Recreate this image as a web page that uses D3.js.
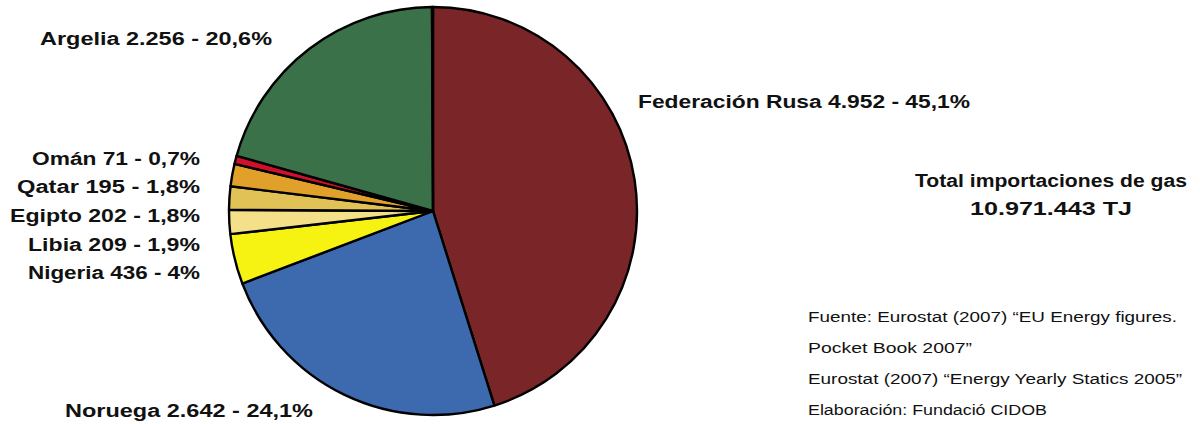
<!DOCTYPE html>
<html><head><meta charset="utf-8">
<script src="https://cdn.jsdelivr.net/npm/d3@7"></script>
<style>
html,body{margin:0;padding:0;background:#fff;}
svg{display:block;}
text{font-family:"Liberation Sans",Arial,sans-serif;fill:#111;}
.lbl{font-weight:bold;font-size:18px;}
.src{font-size:15.5px;}
</style></head>
<body>
<svg id="chart" width="1200" height="424"></svg>
<script>
const countries = ["Federación Rusa","Noruega","Nigeria","Libia","Egipto","Qatar","Omán","Argelia","Otros"];
const values    = [4952, 2642, 436, 209, 202, 195, 71, 2256, 8.443];
const valueText = ["4.952","2.642","436","209","202","195","71","2.256",""];
const pctText   = ["45,1%","24,1%","4%","1,9%","1,8%","1,8%","0,7%","20,6%",""];
const colors    = ["#7a2628","#3d69ae","#f6f212","#f5e08a","#e1c256","#e0a02a","#d0102c","#3a7148","#000000"];
const totalLines = ["Total importaciones de gas","10.971.443 TJ"];
const sourceLines = ["Fuente: Eurostat (2007) “EU Energy figures.","Pocket Book 2007”","Eurostat (2007) “Energy Yearly Statics 2005”","Elaboración: Fundació CIDOB"];

const svg = d3.select("#chart");
const cx = 433, cy = 211, R = 204;
const data = countries.map((c,i)=>({name:c,value:values[i],color:colors[i],label:valueText[i]?`${c} ${valueText[i]} - ${pctText[i]}`:""}));
const pie = d3.pie().sort(null).value(d=>d.value).startAngle(0).endAngle(2*Math.PI);
const arc = d3.arc().innerRadius(0).outerRadius(R);
const g = svg.append("g").attr("transform",`translate(${cx},${cy})`);
g.selectAll("path").data(pie(data)).join("path")
  .attr("d",arc).attr("fill",d=>d.data.color)
  .attr("stroke","#000").attr("stroke-width",2.4).attr("stroke-linejoin","round");

// label layout (anchor, x, y, target width)
const labelPos = {
  "Federación Rusa":["start",638,108,332],
  "Noruega":["start",65,417,248],
  "Nigeria":["end",200,279,172],
  "Libia":["end",200,251,172],
  "Egipto":["end",200,222,190],
  "Qatar":["end",200,193,183],
  "Omán":["end",200,165,168],
  "Argelia":["start",40,45,232]
};
data.forEach(d=>{
  const p = labelPos[d.name]; if(!p) return;
  svg.append("text").attr("class","lbl").attr("text-anchor",p[0])
    .attr("x",p[1]).attr("y",p[2]).attr("textLength",p[3]).attr("lengthAdjust","spacingAndGlyphs")
    .text(d.label);
});
svg.selectAll("text.tot").data(totalLines).join("text").attr("class","lbl tot")
  .attr("text-anchor","middle").attr("x",1051).attr("y",(d,i)=>187+i*28)
  .attr("textLength",(d,i)=>i?162:272).attr("lengthAdjust","spacingAndGlyphs").text(d=>d);
const srcW=[369,164,374,239];
svg.selectAll("text.src").data(sourceLines).join("text").attr("class","src")
  .attr("x",808).attr("y",(d,i)=>322+i*31)
  .attr("textLength",(d,i)=>srcW[i]).attr("lengthAdjust","spacingAndGlyphs").text(d=>d);
</script>
</body></html>
